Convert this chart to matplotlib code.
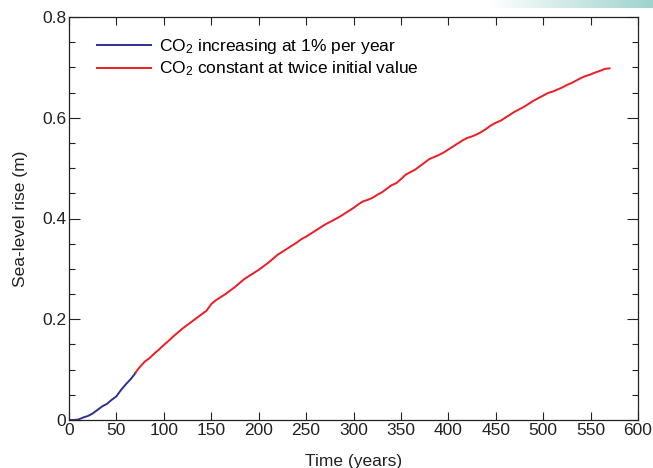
import numpy as np
import matplotlib.pyplot as plt
from matplotlib.colors import LinearSegmentedColormap

plt.rcParams['font.family'] = ['Liberation Sans', 'DejaVu Sans']
plt.rcParams['mathtext.fontset'] = 'custom'
plt.rcParams['mathtext.rm'] = 'Liberation Sans'
plt.rcParams['mathtext.it'] = 'Liberation Sans:italic'

# ---- data: sea-level rise (m) vs time (years) ----
years_ramp = [0, 5, 10, 15, 20, 25, 30, 35, 40, 45, 50, 55, 60, 65, 70]
rise_ramp = [0.000, 0.000, 0.001, 0.005, 0.008, 0.013, 0.020, 0.027,
             0.032, 0.040, 0.047, 0.060, 0.071, 0.081, 0.093]

years_const = list(range(70, 575, 5))
rise_const = [0.094, 0.106, 0.116, 0.123, 0.132, 0.140, 0.149, 0.157,
              0.166, 0.174, 0.182, 0.189, 0.196, 0.203, 0.210, 0.217,
              0.230, 0.238, 0.244, 0.250, 0.257, 0.264, 0.272, 0.280,
              0.286, 0.292, 0.298, 0.305, 0.312, 0.320, 0.328, 0.334,
              0.340, 0.346, 0.352, 0.359, 0.364, 0.370, 0.376, 0.382,
              0.388, 0.393, 0.398, 0.403, 0.409, 0.415, 0.421, 0.428,
              0.434, 0.437, 0.441, 0.447, 0.452, 0.459, 0.466, 0.470,
              0.478, 0.487, 0.492, 0.497, 0.504, 0.511, 0.518, 0.522,
              0.526, 0.531, 0.537, 0.543, 0.549, 0.555, 0.560, 0.563,
              0.567, 0.572, 0.578, 0.585, 0.590, 0.594, 0.600, 0.606,
              0.612, 0.617, 0.622, 0.628, 0.634, 0.639, 0.644, 0.649,
              0.652, 0.656, 0.660, 0.665, 0.669, 0.674, 0.679, 0.683,
              0.686, 0.690, 0.693, 0.697, 0.698]

fig = plt.figure(figsize=(6.53, 4.68), dpi=100)

# teal band across the top right corner
band = fig.add_axes([490 / 653, 1 - 8 / 468, 163 / 653, 8 / 468])
cmap = LinearSegmentedColormap.from_list('band', ['#ffffff', '#cde9e5', '#9fd3cc'])
band.imshow(np.linspace(0, 1, 256)[None, :], aspect='auto', cmap=cmap)
band.axis('off')

ax = fig.add_axes([69 / 653, 1 - 420 / 468, 569 / 653, 403 / 468])

ax.plot(years_ramp, rise_ramp, color='#2b3192', lw=1.4,
        label='CO$_2$ increasing at 1% per year')
ax.plot(years_const, rise_const, color='#ed1c24', lw=1.4,
        label='CO$_2$ constant at twice initial value')

ax.set_xlim(0, 600)
ax.set_ylim(0, 0.8)
ax.set_xticks(np.arange(0, 601, 50))
ax.set_yticks([0, 0.2, 0.4, 0.6, 0.8])
ax.set_yticklabels(['0', '0.2', '0.4', '0.6', '0.8'])
ax.set_yticks(np.arange(0, 0.81, 0.05), minor=True)

ax.tick_params(axis='both', which='major', direction='in', top=True, right=True,
               labelsize=12.5, width=0.8, color='#222222', labelcolor='#222222', pad=2)
ax.tick_params(axis='y', which='major', length=8)
ax.tick_params(axis='x', which='major', length=6)
ax.tick_params(axis='y', which='minor', direction='in', left=True, right=True,
               length=4.5, width=0.8, color='#222222')
for s in ax.spines.values():
    s.set_linewidth(0.9)
    s.set_color('#222222')

ax.set_xlabel('Time (years)', fontsize=12.5, labelpad=12, color='#222222')
ax.set_ylabel('Sea-level rise (m)', fontsize=12.5, labelpad=10, color='#222222')

ax.legend(loc='upper left', bbox_to_anchor=(0.05, 0.95), frameon=False,
          fontsize=12.5, handlelength=3.1, handletextpad=0.45, labelspacing=0.2,
          borderaxespad=0, borderpad=0)

fig.savefig('out.png', dpi=100)
